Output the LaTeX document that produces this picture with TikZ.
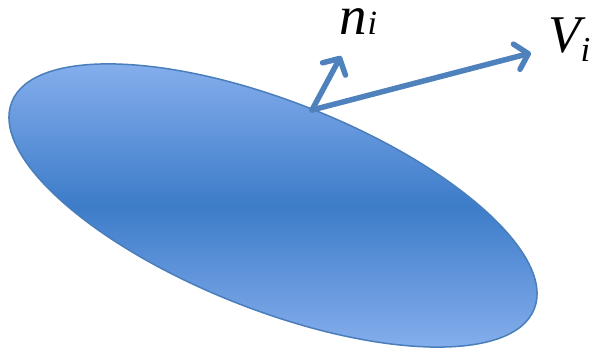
\documentclass[tikz,border=0pt]{standalone}
\usepackage{fontspec}
\setmainfont{Liberation Serif}
\usetikzlibrary{arrows.meta}
\definecolor{edgeblue}{HTML}{4A7EBB}
\definecolor{arrowblue}{HTML}{4F81BD}
\definecolor{lightblue}{HTML}{8CB3F0}
\definecolor{midblue}{HTML}{3D7CC9}
\tikzset{
  vec/.style={draw=arrowblue, line width=5.5pt, line cap=round,
    -{Straight Barb[length=12pt,width=26pt,line width=5.5pt,round]}},
  lbl/.style={inner sep=0pt, anchor=base west, text=black}
}
\begin{document}
\begin{tikzpicture}[x=1pt,y=1pt]
\useasboundingbox (0,0) rectangle (602,352);
\shade[top color=lightblue, bottom color=lightblue, middle color=midblue,
  draw=edgeblue, line width=1.5pt]
  (273,146.5) ellipse [x radius=281, y radius=104, rotate=-21.6];
\coordinate (o) at (312,242);
\coordinate (ntip) at (341,296);
\coordinate (vtip) at (531,299);
\draw[vec] (o) -- (ntip);
\draw[vec] (o) -- (vtip);
\node[lbl, text height=27pt, text depth=1pt] (nlab) at (339,317)
  {\fontsize{55}{50}\selectfont\itshape n\kern1pt{\fontsize{34}{34}\selectfont i}};
\node[lbl, text height=37pt, text depth=10pt] (vlab) at (548,299)
  {\fontsize{53}{50}\selectfont\itshape V\raisebox{-9pt}{\fontsize{35}{35}\selectfont i}};
\end{tikzpicture}
\end{document}
